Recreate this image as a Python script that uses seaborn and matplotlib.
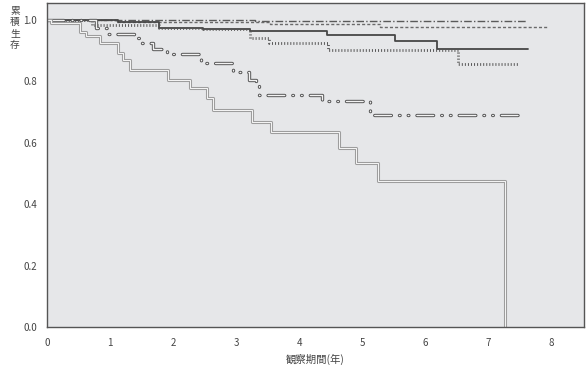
import matplotlib
matplotlib.use("Agg")
import matplotlib.pyplot as plt
import seaborn as sns
import pandas as pd
from matplotlib.ticker import MultipleLocator

# ---- data (Kaplan-Meier step curves) ----
# gray double line (lowest curve)
a_time = [0, 0.07, 0.52, 0.62, 0.84, 1.12, 1.20, 1.32, 1.92, 2.27, 2.54, 2.64, 3.26, 3.56, 4.63, 4.91, 5.26, 7.27]
a_surv = [1.0, 0.989, 0.962, 0.948, 0.924, 0.893, 0.869, 0.837, 0.804, 0.777, 0.745, 0.706, 0.668, 0.635, 0.583, 0.535, 0.477, 0.0]
# outlined pill / oval pattern curve
b_time = [0, 0.78, 0.95, 1.38, 1.50, 1.68, 1.90, 2.45, 2.95, 3.20, 3.32, 3.36, 4.37, 5.13, 7.56]
b_surv = [1.0, 0.973, 0.954, 0.941, 0.926, 0.906, 0.888, 0.859, 0.830, 0.806, 0.786, 0.756, 0.737, 0.690, 0.690]
# dotted curve
c_time = [0, 0.72, 1.77, 2.48, 3.22, 3.52, 4.46, 6.52, 7.48]
c_surv = [1.0, 0.985, 0.973, 0.970, 0.941, 0.924, 0.902, 0.858, 0.858]
# solid curve
d_time = [0, 1.13, 1.77, 2.48, 3.22, 4.45, 5.52, 6.19, 7.63]
d_surv = [1.0, 0.992, 0.975, 0.970, 0.964, 0.951, 0.931, 0.907, 0.907]
# short dashed curve
e_time = [0, 1.10, 3.54, 5.29, 7.95]
e_surv = [1.0, 0.995, 0.987, 0.978, 0.978]
# dash-dot curve
f_time = [0, 3.30, 7.60]
f_surv = [1.0, 0.997, 0.997]

x_ticks = [0, 1, 2, 3, 4, 5, 6, 7, 8]
y_ticks = [0.0, 0.2, 0.4, 0.6, 0.8, 1.0]
y_tick_labels = ["0.0", "0.2", "0.4", "0.6", "0.8", "1.0"]
x_label = "観察期間(年)"
y_label = "累積生存"

sns.set_style("white")
plt.rcParams["font.family"] = ["Noto Sans CJK JP", "DejaVu Sans"]
plt.rcParams["lines.scale_dashes"] = False

fig = plt.figure(figsize=(5.87, 3.65), dpi=100)
ax = fig.add_axes([47 / 587, 1 - 327 / 365, (584 - 47) / 587, (327 - 3) / 365])
bg = "#e6e7e9"
ax.set_facecolor(bg)


def df(t, s):
    return pd.DataFrame({"t": t, "s": s})


common = dict(x="t", y="s", ax=ax, estimator=None, sort=False,
              drawstyle="steps-post", legend=False)

# dash-dot
sns.lineplot(data=df(f_time, f_surv), color="#5a5a5a", linewidth=1.0,
             linestyle=(0, (5.5, 1.6, 1.0, 1.6)), **common)
# short dashed
sns.lineplot(data=df(e_time, e_surv), color="#6a6a6a", linewidth=1.0,
             linestyle=(0, (2.2, 1.5)), **common)
# solid
sns.lineplot(data=df(d_time, d_surv), color="#474747", linewidth=1.3, **common)
# dotted (vertical ticks)
sns.lineplot(data=df(c_time, c_surv), color="#555555", linewidth=2.0,
             linestyle=(0, (0.7, 1.5)), **common)
# outlined pill pattern
pill = (0, (12, 5.8, 0.5, 5.8, 0.5, 5.8))
sns.lineplot(data=df(b_time, b_surv), color="#555555", linewidth=2.4,
             linestyle=pill, dash_capstyle="round", **common)
sns.lineplot(data=df(b_time, b_surv), color="#f2f2f2", linewidth=1.0,
             linestyle=pill, dash_capstyle="round", **common)
# gray double line
sns.lineplot(data=df(a_time, a_surv), color="#9d9d9d", linewidth=2.2, **common)
sns.lineplot(data=df(a_time, a_surv), color="#f6f6f6", linewidth=0.7, **common)

ax.set_xlim(0, (584 - 47) / 63.0)
ax.set_ylim(0, 1 + 17 / 307)
ax.set_xticks(x_ticks)
ax.set_xticklabels([str(v) for v in x_ticks])
ax.set_yticks(y_ticks)
ax.set_yticklabels(y_tick_labels)
ax.yaxis.set_minor_locator(MultipleLocator(0.1))
ax.tick_params(axis="both", which="both", direction="out", length=5, width=1,
               color="#333333", labelsize=7, labelcolor="#444444", pad=2)
ax.tick_params(axis="x", which="minor", length=0)
ax.tick_params(axis="x", pad=3)
ax.set_xlabel(x_label, fontsize=7.5, color="#444444", labelpad=4)
ax.set_ylabel("")
for sp in ax.spines.values():
    sp.set_visible(True)
    sp.set_color("#555555")
    sp.set_linewidth(1.0)
ax.grid(False)

fig.text(15 / 587, 1 - 28 / 365, "\n".join(y_label), ha="center", va="center",
         fontsize=7, color="#444444", linespacing=1.15)

fig.savefig("out.png", dpi=100, facecolor="white")
